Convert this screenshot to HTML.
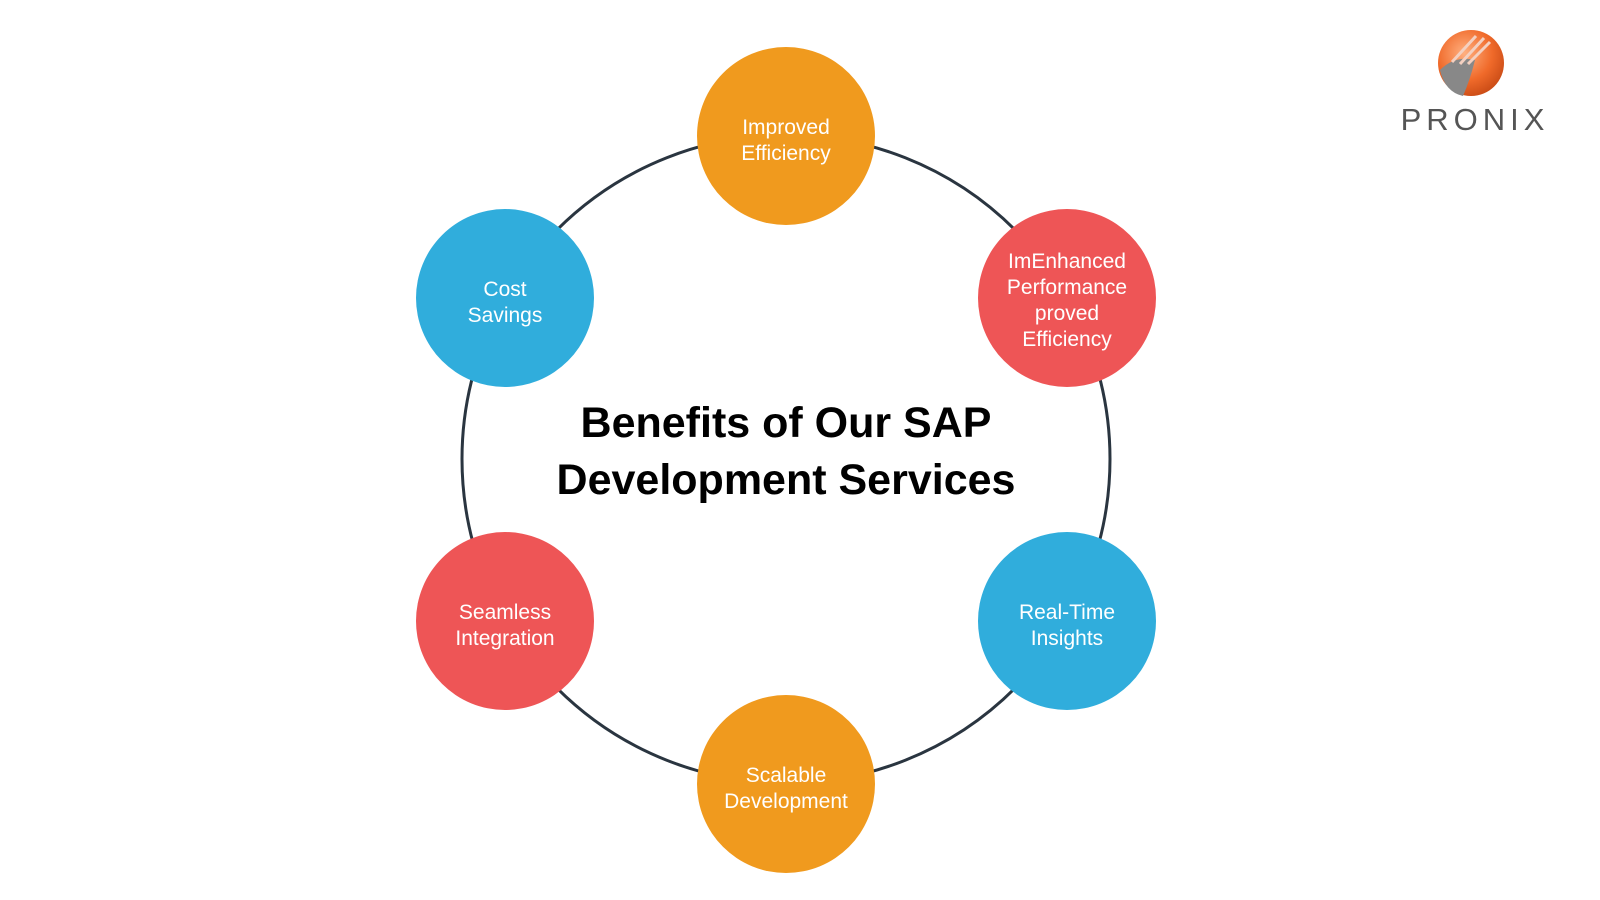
<!DOCTYPE html>
<html><head><meta charset="utf-8"><style>
html,body{margin:0;padding:0;background:#fff;}
body{width:1600px;height:900px;overflow:hidden;position:relative;font-family:"Liberation Sans",sans-serif;}
.n{position:absolute;width:178px;height:178px;border-radius:50%;display:flex;align-items:center;justify-content:center;text-align:center;color:#fff;font-size:21px;line-height:26px;box-sizing:border-box;padding-top:10px;}
.o{background:#F09A1E}.r{background:#EE5556}.b{background:#30ADDC}
</style></head><body>
<svg width="1600" height="900" style="position:absolute;left:0;top:0">
<circle cx="786" cy="459" r="324" fill="none" stroke="#2a3540" stroke-width="3"/>
<defs><radialGradient id="g" cx="0.4" cy="0.35" r="0.7"><stop offset="0" stop-color="#ffb080"/><stop offset="0.6" stop-color="#f06a2a"/><stop offset="1" stop-color="#c84a15"/></radialGradient></defs>
<circle cx="1471" cy="63" r="33" fill="url(#g)"/>
<path d="M1440 70 Q1455 55 1475 60 Q1470 80 1463 96 Q1445 92 1440 70Z" fill="#888"/>
<path d="M1452 62 L1476 36 M1460 64 L1484 38 M1468 64 L1490 42" stroke="#f4d0c0" stroke-width="3"/>
<text x="1475" y="130" text-anchor="middle" font-family="Liberation Sans" font-size="31" fill="#555" letter-spacing="5">PRONIX</text>
</svg>
<div class="n o" style="left:697px;top:47px">Improved<br>Efficiency</div>
<div class="n r" style="left:978px;top:209px;padding-top:6px">ImEnhanced<br>Performance<br>proved<br>Efficiency</div>
<div class="n b" style="left:978px;top:532px">Real-Time<br>Insights</div>
<div class="n o" style="left:697px;top:695px">Scalable<br>Development</div>
<div class="n r" style="left:416px;top:532px">Seamless<br>Integration</div>
<div class="n b" style="left:416px;top:209px">Cost<br>Savings</div>
<div style="position:absolute;left:436px;width:700px;top:395px;text-align:center;font-weight:bold;font-size:43px;line-height:57px;color:#000">Benefits of Our SAP<br>Development Services</div>
</body></html>
